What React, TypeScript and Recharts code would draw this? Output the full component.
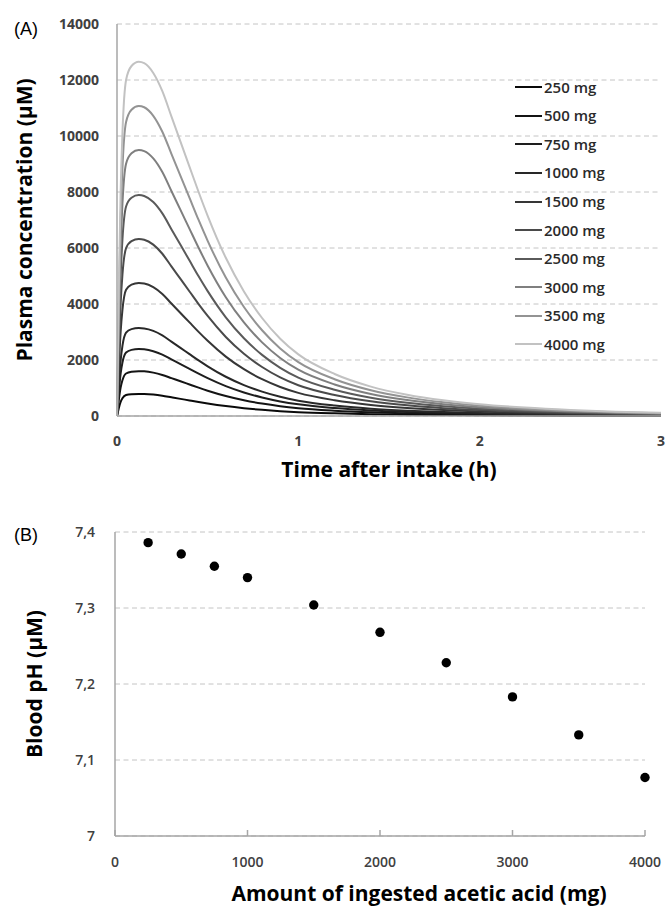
import React from 'react'
import {
  LineChart,
  Line,
  XAxis,
  YAxis,
  CartesianGrid,
  Legend,
  ScatterChart,
  Scatter,
} from 'recharts'

const FONT = '"Open Sans", "DejaVu Sans", sans-serif'
const AXIS_GREY = '#a6a6a6'
const GRID_GREY = '#c4c4c4'

// ---- panel A: plasma concentration (µM) vs time after intake (h)
const hours = [0, 0.01, 0.02, 0.03, 0.05, 0.08, 0.12, 0.15, 0.2, 0.25, 0.3, 0.35, 0.4, 0.45, 0.5, 0.6, 0.7, 0.8, 0.9, 1.0, 1.2, 1.4, 1.6, 1.8, 2.0, 2.25, 2.5, 2.75, 3.0]

const conc250 = [0, 281, 500, 631, 749, 781, 790, 787, 765, 724, 668, 612, 556, 500, 447, 353, 278, 219, 172, 137, 94, 66, 47, 35, 26, 19, 13, 10, 7]
const conc500 = [0, 569, 1012, 1277, 1518, 1581, 1600, 1594, 1549, 1467, 1353, 1240, 1126, 1012, 904, 715, 563, 443, 349, 278, 190, 133, 96, 71, 53, 38, 27, 20, 14]
const conc750 = [0, 850, 1511, 1908, 2267, 2362, 2390, 2380, 2314, 2192, 2021, 1852, 1682, 1511, 1351, 1067, 841, 661, 521, 416, 283, 198, 144, 106, 79, 57, 41, 29, 21]
const conc1000 = [0, 1117, 1986, 2507, 2979, 3103, 3140, 3127, 3041, 2879, 2656, 2433, 2209, 1986, 1775, 1402, 1105, 869, 685, 546, 372, 261, 189, 139, 104, 74, 53, 39, 28]
const conc1500 = [0, 1690, 3004, 3792, 4506, 4693, 4750, 4731, 4600, 4356, 4018, 3680, 3342, 3004, 2685, 2121, 1671, 1314, 1036, 826, 563, 394, 285, 210, 158, 113, 81, 58, 42]
const conc2000 = [0, 2248, 3997, 5046, 5995, 6245, 6320, 6295, 6120, 5795, 5345, 4896, 4447, 3997, 3572, 2823, 2223, 1749, 1379, 1099, 750, 525, 380, 280, 210, 150, 107, 78, 56]
const conc2500 = [0, 2806, 4990, 6299, 7484, 7796, 7890, 7858, 7641, 7235, 6673, 6112, 5551, 4990, 4459, 3524, 2776, 2183, 1722, 1372, 936, 655, 474, 350, 262, 187, 134, 97, 70]
const conc3000 = [0, 3379, 6008, 7585, 9012, 9387, 9500, 9462, 9200, 8712, 8035, 7360, 6684, 6008, 5369, 4243, 3342, 2629, 2073, 1652, 1127, 789, 571, 421, 315, 225, 162, 117, 85]
const conc3500 = [0, 3938, 7001, 8838, 10501, 10938, 11070, 11026, 10720, 10151, 9363, 8576, 7789, 7001, 6257, 4944, 3894, 3063, 2415, 1925, 1313, 919, 665, 490, 368, 262, 188, 136, 99]
const conc4000 = [0, 4500, 8000, 10100, 12000, 12500, 12650, 12600, 12250, 11600, 10700, 9800, 8900, 8000, 7150, 5650, 4450, 3500, 2760, 2200, 1500, 1050, 760, 560, 420, 300, 215, 155, 112]

const doseLabels = ['250 mg', '500 mg', '750 mg', '1000 mg', '1500 mg', '2000 mg', '2500 mg', '3000 mg', '3500 mg', '4000 mg']
const doseColors = ['#0a0a0a', '#141414', '#1e1e1e', '#282828', '#363636', '#4a4a4a', '#5a5a5a', '#7f7f7f', '#939393', '#c2c2c2']
const timeTicks = [0, 1, 2, 3]
const concTicks = [0, 2000, 4000, 6000, 8000, 10000, 12000, 14000]

// ---- panel B: blood pH vs amount of ingested acetic acid
const ingestedMg = [250, 500, 750, 1000, 1500, 2000, 2500, 3000, 3500, 4000]
const bloodPh = [7.386, 7.371, 7.355, 7.34, 7.304, 7.268, 7.228, 7.183, 7.133, 7.077]
const amountTicks = [0, 1000, 2000, 3000, 4000]
const phTicks = [7, 7.1, 7.2, 7.3, 7.4]

const doseSeries = [conc250, conc500, conc750, conc1000, conc1500, conc2000, conc2500, conc3000, conc3500, conc4000].map(
  (values, i) => ({ key: `d${i}`, name: doseLabels[i], color: doseColors[i], values })
)

const concRows = hours.map((h, i) => {
  const row: Record<string, number> = { h }
  doseSeries.forEach(s => {
    row[s.key] = s.values[i]
  })
  return row
})

const phRows = ingestedMg.map((mg, i) => ({ mg, ph: bloodPh[i] }))

function DoseLegend() {
  return (
    <div style={{ fontFamily: FONT }}>
      {doseSeries.map(s => (
        <div key={s.key} style={{ display: 'flex', alignItems: 'center', height: 28.57 }}>
          <span style={{ width: 27, borderTop: `2px solid ${s.color}`, marginRight: 2 }} />
          <span style={{ fontSize: 15, fontWeight: 600, color: '#2a2a2a', lineHeight: '17px' }}>{s.name}</span>
        </div>
      ))}
    </div>
  )
}

// eslint-disable-next-line @typescript-eslint/no-explicit-any
function AmountTick({ x, y, payload }: any) {
  return (
    <g>
      <line x1={x} x2={x} y1={y - 6} y2={y} stroke={AXIS_GREY} strokeWidth={1.5} />
      <text x={x} y={y + 26} dy="0.35em" textAnchor="middle" fill="#404040" fontSize={14} fontWeight={600} fontFamily={FONT}>
        {payload.value}
      </text>
    </g>
  )
}

const titleStyle: React.CSSProperties = {
  position: 'absolute',
  fontFamily: FONT,
  fontWeight: 700,
  fontSize: 21,
  color: '#000',
  whiteSpace: 'nowrap',
}

function Title({ x, y, text, vertical }: { x: number; y: number; text: string; vertical?: boolean }) {
  return (
    <div
      style={{
        ...titleStyle,
        left: x,
        top: y,
        transform: `translate(-50%, -50%)${vertical ? ' rotate(-90deg)' : ''}`,
      }}
    >
      {text}
    </div>
  )
}

function PanelTag({ x, y, text }: { x: number; y: number; text: string }) {
  return (
    <div
      style={{
        position: 'absolute',
        left: x,
        top: y,
        transform: 'translate(-50%, -50%)',
        fontFamily: '"Liberation Sans", Arial, sans-serif',
        fontSize: 18,
        color: '#000',
      }}
    >
      {text}
    </div>
  )
}

export default function App() {
  const tickStyle = { fill: '#404040', fontSize: 14, fontWeight: 700, fontFamily: FONT }
  return (
    <div style={{ position: 'absolute', left: 0, top: 0, width: 668, height: 913, background: '#fff' }}>
      <div style={{ position: 'absolute', left: 0, top: 0 }}>
        <LineChart
          width={668}
          height={490}
          data={concRows}
          margin={{ top: 24, right: 7, bottom: 44, left: 57 }}
        >
          <CartesianGrid vertical={false} stroke={GRID_GREY} strokeDasharray="5 3.5" />
          <XAxis
            dataKey="h"
            type="number"
            domain={[0, 3]}
            ticks={timeTicks}
            height={30}
            tickLine={false}
            tickSize={0}
            tickMargin={20}
            axisLine={{ stroke: AXIS_GREY, strokeWidth: 1.5 }}
            tick={tickStyle}
          />
          <YAxis
            type="number"
            domain={[0, 14000]}
            ticks={concTicks}
            width={60}
            tickLine={false}
            tickSize={0}
            tickMargin={18}
            axisLine={{ stroke: AXIS_GREY, strokeWidth: 1.5 }}
            tick={tickStyle}
          />
          <Legend
            layout="vertical"
            align="center"
            verticalAlign="middle"
            content={<DoseLegend />}
            wrapperStyle={{ left: 515, top: 73, width: 140 }}
          />
          {doseSeries.map(s => (
            <Line
              key={s.key}
              type="monotone"
              dataKey={s.key}
              name={s.name}
              stroke={s.color}
              strokeWidth={2}
              dot={false}
              activeDot={false}
              isAnimationActive={false}
            />
          ))}
        </LineChart>
      </div>

      <div style={{ position: 'absolute', left: 0, top: 490 }}>
        <ScatterChart width={668} height={423} margin={{ top: 42, right: 23, bottom: 47, left: 55 }}>
          <CartesianGrid vertical={false} stroke={GRID_GREY} strokeDasharray="5 3.5" />
          <XAxis
            dataKey="mg"
            type="number"
            domain={[0, 4000]}
            ticks={amountTicks}
            height={30}
            tickLine={false}
            tickSize={0}
            tickMargin={0}
            axisLine={{ stroke: AXIS_GREY, strokeWidth: 1.5 }}
            tick={<AmountTick />}
          />
          <YAxis
            dataKey="ph"
            type="number"
            domain={[7, 7.4]}
            ticks={phTicks}
            width={60}
            tickLine={false}
            tickSize={0}
            tickMargin={20}
            axisLine={{ stroke: AXIS_GREY, strokeWidth: 1.5 }}
            tick={{ ...tickStyle, fontWeight: 600 }}
            tickFormatter={(v: number) => String(v).replace('.', ',')}
          />
          <Scatter
            data={phRows}
            fill="#000"
            isAnimationActive={false}
            // eslint-disable-next-line @typescript-eslint/no-explicit-any
            shape={(p: any) => <circle cx={p.cx} cy={p.cy} r={4.7} fill="#000" />}
          />
        </ScatterChart>
      </div>

      <PanelTag x={26} y={29} text="(A)" />
      <PanelTag x={26} y={535} text="(B)" />
      <Title x={24} y={220} text="Plasma concentration (µM)" vertical />
      <Title x={389} y={469} text="Time after intake (h)" />
      <Title x={34} y={684} text="Blood pH (µM)" vertical />
      <Title x={419} y={893} text="Amount of ingested acetic acid (mg)" />
    </div>
  )
}
